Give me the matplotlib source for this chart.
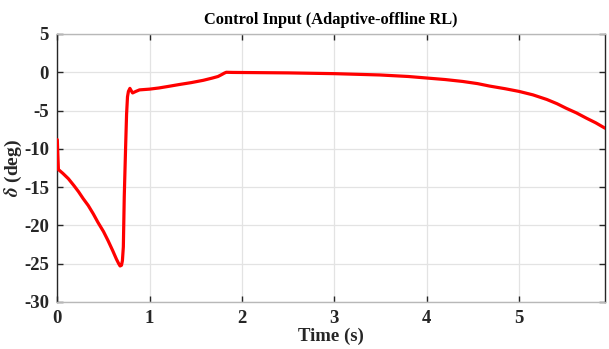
import numpy as np
import matplotlib
matplotlib.use("Agg")
import matplotlib.pyplot as plt

# Steering input delta (deg) over time (s)
time_s = [0.0, 0.005, 0.012, 0.06, 0.12, 0.18, 0.23, 0.28, 0.335, 0.39, 0.44, 0.50, 0.55,
          0.60, 0.64, 0.665, 0.68, 0.695, 0.705, 0.715, 0.725, 0.74, 0.75, 0.76, 0.77,
          0.786, 0.80, 0.815, 0.85, 0.89, 1.0, 1.1, 1.2, 1.32, 1.45, 1.58, 1.68, 1.74,
          1.78, 1.81, 1.83, 1.9, 2.0, 2.5, 3.0, 3.49, 3.8, 4.0, 4.2, 4.39, 4.55, 4.68,
          4.85, 5.0, 5.15, 5.30, 5.41, 5.51, 5.62, 5.73, 5.83, 5.93]
delta_deg = [-8.8, -10.5, -12.7, -13.2, -13.9, -14.8, -15.6, -16.5, -17.4, -18.5, -19.6, -20.8, -22.0,
             -23.3, -24.4, -25.0, -25.3, -25.2, -24.6, -22.8, -16.2, -9.6, -5.5, -3.2, -2.5,
             -2.1, -2.4, -2.7, -2.5, -2.3, -2.2, -2.05, -1.85, -1.6, -1.35, -1.05, -0.75, -0.55,
             -0.3, -0.1, 0.0, -0.02, -0.03, -0.08, -0.18, -0.35, -0.55, -0.75, -0.95, -1.2, -1.48, -1.8,
             -2.15, -2.5, -2.95, -3.55, -4.1, -4.7, -5.3, -6.0, -6.6, -7.3]

x_ticks = [0, 1, 2, 3, 4, 5]
y_ticks = [5, 0, -5, -10, -15, -20, -25, -30]

plt.rcParams['font.family'] = ['Liberation Serif', 'DejaVu Serif']
plt.rcParams['mathtext.fontset'] = 'stix'

fig = plt.figure(figsize=(6.09, 3.49), dpi=100)
ax = fig.add_axes([0.0941, 0.1347, 0.8993, 0.7679])

ax.plot(time_s, delta_deg, color='#ff0000', linewidth=2.3, solid_joinstyle='round',
        solid_capstyle='round', zorder=3)

ax.set_xlim(0, 5.93)
ax.set_ylim(-30, 5)
ax.set_xticks(x_ticks)
ax.set_yticks(y_ticks)
ax.set_xticklabels([str(v) for v in x_ticks], fontsize=13.5, fontweight='bold')
ax.set_yticklabels([str(v) for v in y_ticks], fontsize=13.5, fontweight='bold')

ax.grid(True, color='#e3e3e3', linewidth=0.9)
ax.set_axisbelow(True)

ax.tick_params(direction='in', length=4, width=1.0, color='#262626',
               top=True, right=True, labelcolor='#262626')
ax.tick_params(axis='x', pad=6)
ax.tick_params(axis='y', pad=6)

for side in ['left', 'right']:
    ax.spines[side].set_color('#262626')
    ax.spines[side].set_linewidth(1.0)
for side in ['top', 'bottom']:
    ax.spines[side].set_color('#b8b8b8')
    ax.spines[side].set_linewidth(1.0)

ax.set_title('Control Input (Adaptive-offline RL)', fontsize=11.8, fontweight='bold',
             color='#000000', pad=7)
ax.set_xlabel('Time (s)', fontsize=13.5, fontweight='bold', color='#262626', labelpad=0)
ax.set_ylabel(r'$\boldsymbol{\delta}$ (deg)', fontsize=14, fontweight='bold',
              color='#262626', labelpad=0)

fig.savefig('out.png', dpi=100)
